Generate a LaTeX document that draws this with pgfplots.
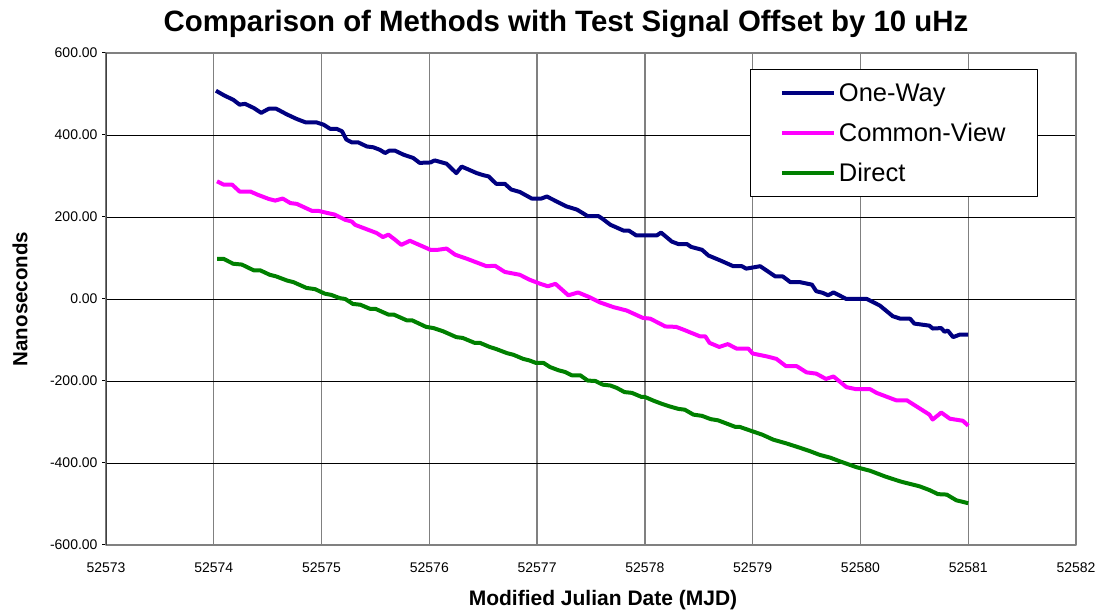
\documentclass[border=0pt]{standalone}
\usepackage{fontspec}
\setmainfont{Liberation Sans}
\usepackage{pgfplots}
\pgfplotsset{compat=1.18}
\definecolor{oneway}{RGB}{0,0,128}
\definecolor{commonview}{RGB}{255,0,255}
\definecolor{direct}{RGB}{0,128,0}
\definecolor{gridgray}{RGB}{128,128,128}

\begin{document}
\begin{tikzpicture}
\useasboundingbox (-106pt,-70pt) rectangle (991pt,545pt);
\begin{axis}[
    at={(0pt,0pt)}, anchor=south west,
    scale only axis, width=970pt, height=492pt,
    xmin=52573, xmax=52582, ymin=-600, ymax=600,
    scaled x ticks=false, scaled y ticks=false,
    xtick={52573,52574,52575,52576,52577,52578,52579,52580,52581,52582},
    xticklabels={52573,52574,52575,52576,52577,52578,52579,52580,52581,52582},
    ytick={-600,-400,-200,0,200,400,600},
    yticklabels={-600.00,-400.00,-200.00,0.00,200.00,400.00,600.00},
    tick label style={font=\fontsize{14}{16}\selectfont},
    xticklabel style={yshift=-10pt},
    yticklabel style={xshift=-1pt},
    xtick pos=bottom, ytick pos=left,
    tick align=outside, major tick length=4pt,
    xtick style={draw=none},
    ytick style={black, line width=1pt},
    grid=major,
    x grid style={gridgray, line width=1.3pt},
    y grid style={black, line width=0.9pt},
    axis line style={gridgray, line width=1.5pt},
    title={Comparison of Methods with Test Signal Offset by 10 uHz},
    title style={font=\bfseries\fontsize{29.4}{34}\selectfont, at={(axis description cs:0.5,1)}, anchor=center, yshift=23pt, xshift=-25pt},
    xlabel={Modified Julian Date (MJD)},
    xlabel style={font=\bfseries\fontsize{21}{24}\selectfont, at={(axis description cs:0.5,0)}, anchor=center, yshift=-55pt, xshift=12pt},
    ylabel={Nanoseconds},
    ylabel style={font=\bfseries\fontsize{20.5}{24}\selectfont, at={(axis description cs:-0.0887,0.5)}, anchor=center},
    legend style={at={(0.961,0.9675)}, anchor=north east, draw=black, line width=1pt, fill=white,
        font=\fontsize{25.5}{30}\selectfont, inner xsep=29pt, inner ysep=11pt, row sep=14pt,
        nodes={inner sep=3pt}},
    legend cell align=left,
    legend image code/.code={\draw[#1] (0pt,0pt) -- (52pt,0pt);},
    line join=round,
]
\addplot[oneway, line width=4pt] coordinates {
(52574.02,508) (52574.10,496) (52574.18,486) (52574.24,474) (52574.29,476)
(52574.37,466) (52574.44,454) (52574.51,464) (52574.58,464) (52574.68,450)
(52574.77,439) (52574.85,431) (52574.95,431) (52575.02,425) (52575.08,415)
(52575.14,415) (52575.19,409) (52575.23,389) (52575.28,382) (52575.34,382)
(52575.42,372) (52575.48,370) (52575.54,364) (52575.59,356) (52575.63,362)
(52575.68,362) (52575.76,352) (52575.85,344) (52575.91,332) (52576.01,333)
(52576.05,338) (52576.16,330) (52576.25,307) (52576.30,323) (52576.44,307)
(52576.50,302) (52576.55,299) (52576.62,281) (52576.70,281) (52576.76,267)
(52576.84,261) (52576.95,245) (52577.04,245) (52577.09,250) (52577.18,238)
(52577.27,226) (52577.37,218) (52577.47,202) (52577.57,202) (52577.61,195)
(52577.68,181) (52577.80,167) (52577.85,167) (52577.92,155) (52578.11,155)
(52578.15,162) (52578.25,140) (52578.31,134) (52578.39,134) (52578.43,127)
(52578.53,120) (52578.59,106) (52578.70,94) (52578.82,80) (52578.90,80)
(52578.94,74) (52579.07,80) (52579.21,55) (52579.28,55) (52579.35,41)
(52579.44,41) (52579.55,35) (52579.59,19) (52579.65,15) (52579.70,9)
(52579.75,16) (52579.87,0) (52580.06,0) (52580.18,-16) (52580.30,-42)
(52580.37,-48) (52580.46,-48) (52580.50,-60) (52580.64,-65) (52580.67,-72)
(52580.75,-71) (52580.78,-80) (52580.81,-77) (52580.86,-93) (52580.92,-87)
(52581.00,-87)
};
\addlegendentry{One-Way}
\addplot[commonview, line width=4pt] coordinates {
(52574.03,287) (52574.09,279) (52574.17,279) (52574.24,262) (52574.34,262)
(52574.41,254) (52574.51,244) (52574.57,240) (52574.64,245) (52574.71,234)
(52574.77,232) (52574.91,215) (52574.97,215) (52575.05,210) (52575.12,206)
(52575.22,193) (52575.28,189) (52575.31,181) (52575.36,176) (52575.45,167)
(52575.51,161) (52575.57,151) (52575.62,157) (52575.68,145) (52575.74,132)
(52575.82,142) (52575.88,135) (52576.01,120) (52576.08,120) (52576.16,123)
(52576.24,108) (52576.35,98) (52576.44,89) (52576.53,80) (52576.61,81)
(52576.70,66) (52576.84,59) (52576.93,47) (52577.03,37) (52577.10,31)
(52577.17,37) (52577.29,9) (52577.38,16) (52577.49,4) (52577.58,-8)
(52577.71,-20) (52577.83,-28) (52577.98,-46) (52578.05,-48) (52578.19,-67)
(52578.29,-68) (52578.36,-75) (52578.51,-91) (52578.56,-91) (52578.60,-107)
(52578.69,-117) (52578.77,-110) (52578.85,-121) (52578.96,-121) (52579.00,-133)
(52579.13,-140) (52579.22,-146) (52579.31,-164) (52579.41,-164) (52579.50,-179)
(52579.59,-182) (52579.68,-195) (52579.75,-189) (52579.87,-215) (52579.96,-220)
(52580.09,-220) (52580.15,-229) (52580.33,-247) (52580.43,-247) (52580.52,-262)
(52580.64,-282) (52580.67,-294) (52580.75,-277) (52580.83,-292) (52580.95,-297)
(52581.00,-309)
};
\addlegendentry{Common-View}
\addplot[direct, line width=4pt] coordinates {
(52574.03,98) (52574.09,98) (52574.18,86) (52574.26,84) (52574.37,70)
(52574.43,70) (52574.52,59) (52574.58,55) (52574.68,45) (52574.74,41)
(52574.86,27) (52574.94,24) (52575.03,13) (52575.09,10) (52575.17,2)
(52575.22,0) (52575.29,-12) (52575.36,-14) (52575.45,-24) (52575.50,-24)
(52575.62,-38) (52575.67,-38) (52575.79,-52) (52575.84,-52) (52575.97,-68)
(52576.04,-71) (52576.13,-79) (52576.25,-93) (52576.31,-95) (52576.42,-107)
(52576.47,-107) (52576.56,-117) (52576.62,-122) (52576.72,-132) (52576.78,-136)
(52576.87,-146) (52576.93,-150) (52576.99,-156) (52577.06,-156) (52577.12,-166)
(52577.20,-174) (52577.26,-178) (52577.32,-186) (52577.40,-186) (52577.47,-199)
(52577.54,-200) (52577.61,-209) (52577.68,-211) (52577.74,-217) (52577.81,-227)
(52577.88,-229) (52577.97,-239) (52578.00,-239) (52578.08,-248) (52578.15,-255)
(52578.23,-262) (52578.31,-268) (52578.37,-270) (52578.45,-282) (52578.53,-285)
(52578.61,-293) (52578.68,-296) (52578.76,-304) (52578.84,-312) (52578.88,-312)
(52578.99,-322) (52579.09,-331) (52579.19,-343) (52579.31,-352) (52579.44,-363)
(52579.53,-371) (52579.62,-380) (52579.72,-387) (52579.81,-396) (52579.96,-410)
(52580.09,-419) (52580.23,-433) (52580.37,-445) (52580.55,-457) (52580.64,-466)
(52580.72,-476) (52580.80,-477) (52580.89,-491) (52581.00,-498)
};
\addlegendentry{Direct}
\draw[black!75, line width=1.8pt] (rel axis cs:0,0) -- (rel axis cs:0,1);
\end{axis}
\end{tikzpicture}
\end{document}
